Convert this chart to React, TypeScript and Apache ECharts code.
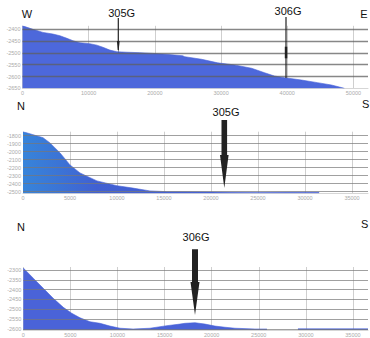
import React, { useEffect, useRef } from "react";
import * as echarts from "echarts";

// W–E profile (through 305G and 306G): distance (m) and depth (m)
const weDist = [0, 1580, 3090, 4600, 5650, 6710, 7620, 8670, 10180, 11230, 12140, 13200, 14250, 15760, 17720, 19680, 21790, 24200, 24510, 27070, 29480, 32050, 34610, 36570, 38080, 39590, 42150, 44560, 46670, 48630];
const weDepth = [-2385, -2400, -2413, -2420, -2427, -2438, -2448, -2457, -2461, -2467, -2476, -2488, -2495, -2497, -2499, -2502, -2506, -2512, -2516, -2527, -2542, -2551, -2565, -2584, -2598, -2605, -2615, -2626, -2636, -2650];

// N–S profile through 305G
const ns305Dist = [0, 1000, 2130, 2870, 3940, 5000, 6060, 7870, 10000, 11700, 13500, 15300, 17000, 20000, 22000, 25000, 28000, 30000, 31500];
const ns305Depth = [-1750, -1785, -1825, -1890, -2015, -2165, -2265, -2365, -2425, -2455, -2490, -2500, -2502, -2504, -2507, -2509, -2507, -2506, -2507];

// N–S profile through 306G (null = no data)
const ns306Dist = [0, 1060, 2120, 3180, 4250, 5140, 6020, 7080, 8140, 9200, 10270, 11650, 13450, 15250, 16630, 17170, 18230, 19290, 20350, 21410, 22470, 24600, 25870, 26500, 29160, 36600];
const ns306Depth = [-2290, -2342, -2393, -2444, -2490, -2520, -2543, -2563, -2571, -2585, -2596, -2600, -2596, -2583, -2575, -2571, -2568, -2575, -2585, -2591, -2596, -2600, -2600, null, -2599, -2599];

const directionLabels = ["W", "E", "N", "S", "N", "S"];
const wellLabels = ["305G", "306G", "305G", "306G"];

const FONT = "Liberation Sans, Arial, sans-serif";

function pairs(xs: number[], ys: (number | null)[]) {
  return xs.map((x, i) => [x, ys[i]]);
}

export default function App() {
  const ref = useRef<HTMLDivElement>(null);
  useEffect(() => {
    if (!ref.current) return;
    const chart = echarts.init(ref.current, undefined, { renderer: "svg" });

    const grids = [
      { left: 22.5, top: 25.8, width: 345.5, height: 62.5 },
      { left: 23, top: 131.7, width: 345, height: 61.6 },
      { left: 23.3, top: 267, width: 344.7, height: 63 },
    ];
    const xMax = [52200, 36700, 36600];
    const xInt = [10000, 5000, 5000];
    const yMin = [-2650, -2520, -2605];
    const yMax = [-2385, -1750, -2285];
    const yInt = [50, 100, 50];

    const labelStyle = {
      fontSize: 5.5,
      color: "#aaaaaa",
      fontFamily: FONT,
      formatter: (v: number) => String(v),
    };

    const xAxis = grids.map((_, i) => ({
      type: "value",
      gridIndex: i,
      min: 0,
      max: xMax[i],
      interval: xInt[i],
      axisTick: { show: false },
      axisLine: { show: true, lineStyle: { color: "#d6d6d6", width: 1 } },
      axisLabel: { ...labelStyle, margin: 2, showMaxLabel: false },
      splitLine: { show: true, showMaxLine: false, lineStyle: { color: "#cfcfcf", width: 1 } },
    }));

    const yAxis = grids.map((_, i) => ({
      type: "value",
      gridIndex: i,
      min: yMin[i],
      max: yMax[i],
      minInterval: yInt[i],
      maxInterval: yInt[i],
      z: 3,
      axisTick: { show: false },
      axisLine: { show: false },
      axisLabel: {
        ...labelStyle,
        margin: 2,
        showMaxLabel: false,
        showMinLabel: i === 0,
      },
      splitLine: {
        show: true,
        showMaxLine: false,
        showMinLine: false,
        lineStyle: {
          color: i === 0 ? "rgba(95,95,95,0.75)" : "rgba(120,120,120,0.7)",
          width: i === 0 ? 1.4 : 1.1,
        },
      },
    }));

    const grad2 = new echarts.graphic.LinearGradient(0, 0, 1, 0, [
      { offset: 0, color: "#3784da" },
      { offset: 0.12, color: "#3b74d6" },
      { offset: 0.25, color: "#4160d2" },
      { offset: 1, color: "#4d66da" },
    ]);

    const mkSeries = (i: number, data: any[], color: any) => ({
      type: "line",
      xAxisIndex: i,
      yAxisIndex: i,
      data,
      symbol: "none",
      connectNulls: false,
      lineStyle: { width: 0.6, color: "#4a63d8" },
      areaStyle: { color, opacity: 1, origin: "start" },
      z: 2,
    });

    const txt = (text: string, x: number, y: number, align = "center") => ({
      type: "text",
      x,
      y,
      style: {
        text,
        fontSize: 11,
        fontFamily: FONT,
        fill: "#111",
        align,
        textAlign: align,
        verticalAlign: "middle",
        textVerticalAlign: "middle",
      },
      z: 10,
    });

    const graphic = [
      txt(directionLabels[0], 27, 13.5),
      txt(directionLabels[1], 364, 14),
      txt(directionLabels[2], 21, 106),
      txt(directionLabels[3], 362, 104, "left"),
      txt(directionLabels[4], 21, 227),
      txt(directionLabels[5], 361, 224, "left"),
      txt(wellLabels[0], 121.7, 12.7),
      txt(wellLabels[1], 288, 11),
      txt(wellLabels[2], 226, 111.7),
      txt(wellLabels[3], 196, 236.5),
      // thin arrows on the W–E profile
      { type: "line", shape: { x1: 118.3, y1: 18, x2: 118.3, y2: 50 }, style: { stroke: "#222", lineWidth: 1.2 }, z: 10 },
      { type: "polygon", shape: { points: [[116.9, 41], [119.7, 41], [118.3, 53]] }, style: { fill: "#222" }, z: 10 },
      { type: "line", shape: { x1: 286, y1: 17, x2: 286, y2: 78 }, style: { stroke: "#222", lineWidth: 1.2 }, z: 10 },
      { type: "rect", shape: { x: 284.8, y: 46.7, width: 2.5, height: 11.6 }, style: { fill: "#222" }, z: 10 },
      // thick arrows on the N–S profiles
      {
        type: "polygon",
        shape: { points: [[221.5, 120], [227.1, 120], [227.1, 155], [228.6, 155], [224.3, 188], [220, 155], [221.5, 155]] },
        style: { fill: "#222" },
        z: 10,
      },
      {
        type: "polygon",
        shape: { points: [[192, 249.3], [198, 249.3], [198, 282], [199.5, 282], [195, 315], [190.5, 282], [192, 282]] },
        style: { fill: "#222" },
        z: 10,
      },
    ];

    chart.setOption({
      animation: false,
      grid: grids,
      xAxis,
      yAxis,
      series: [
        mkSeries(0, pairs(weDist, weDepth), "#4d68db"),
        mkSeries(1, pairs(ns305Dist, ns305Depth), grad2),
        mkSeries(2, pairs(ns306Dist, ns306Depth), "#4a63d8"),
      ],
      graphic,
    } as any);

    return () => chart.dispose();
  }, []);

  return (
    <div
      ref={ref}
      style={{ position: "absolute", left: 0, top: 0, width: 370, height: 338, background: "#fff" }}
    />
  );
}
